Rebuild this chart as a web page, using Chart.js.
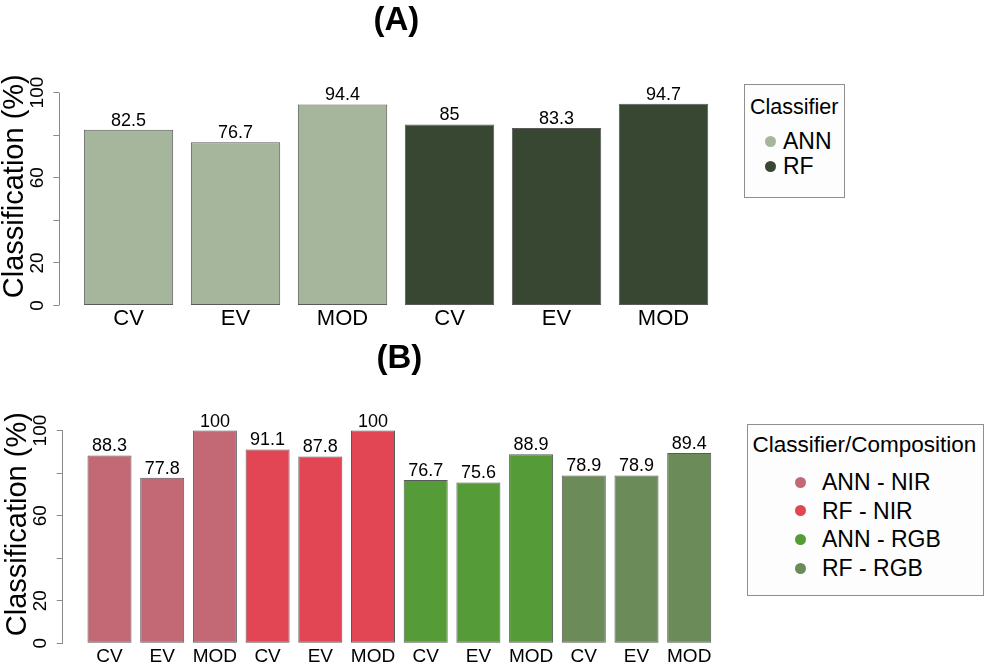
<!DOCTYPE html>
<html>
<head>
<meta charset="utf-8">
<script src="https://cdn.jsdelivr.net/npm/chart.js@4.4.1/dist/chart.umd.min.js"></script>
<style>
  body { margin: 0; background: #fff; font-family: 'Liberation Sans', Arial, sans-serif; }
  #wrap { position: relative; width: 986px; height: 666px; overflow: hidden; }
  canvas { position: absolute; left: 0; }
  #chartA { top: 0; }
  #chartB { top: 338px; }
  .legend { position: absolute; box-sizing: border-box; border: 1px solid #8f8f8f; background: #fdfdfd; color: #000; }
  .legend div { position: absolute; white-space: nowrap; line-height: 26px; }
  .legend span { position: absolute; width: 11px; height: 11px; border-radius: 50%; }
</style>
</head>
<body>
<div id="wrap">
  <canvas id="chartA" width="986" height="338"></canvas>
  <canvas id="chartB" width="986" height="328"></canvas>
  <div class="legend" id="legendA"></div>
  <div class="legend" id="legendB"></div>
</div>
<script>
/* Data */
const panelALabels = ['CV', 'EV', 'MOD', 'CV', 'EV', 'MOD'];
const annValues = [82.5, 76.7, 94.4];
const rfValues = [85, 83.3, 94.7];

const panelBLabels = ['CV', 'EV', 'MOD', 'CV', 'EV', 'MOD', 'CV', 'EV', 'MOD', 'CV', 'EV', 'MOD'];
const annNirValues = [88.3, 77.8, 100];
const rfNirValues = [91.1, 87.8, 100];
const annRgbValues = [76.7, 75.6, 88.9];
const rfRgbValues = [78.9, 78.9, 89.4];

const yTicks = [0, 20, 40, 60, 80, 100];
const yTickLabels = [0, 20, 60, 100];

/* Styles */
const font_family = "'Liberation Sans', Arial, sans-serif";
const axis_color = '#8a8a8a';
const bar_border = '#5a5a5a';
Chart.defaults.font.family = font_family;
Chart.defaults.color = '#000';

// puts each group's bars one after another on the x axis (positions 1..n)
const toBars = (groups) => {
  let pos = 0;
  return groups.map(g => ({
    label: g.label,
    data: g.values.map(v => ({ x: ++pos, y: v })),
    backgroundColor: g.color,
    borderColor: bar_border,
    borderWidth: 1,
    borderSkipped: false
  }));
};

const valueLabels = {
  id: 'valueLabels',
  afterDatasetsDraw(chart) {
    const ctx = chart.ctx;
    ctx.save();
    ctx.font = '18px ' + font_family;
    ctx.fillStyle = '#000';
    ctx.textAlign = 'center';
    ctx.textBaseline = 'alphabetic';
    chart.data.datasets.forEach((ds, i) => {
      chart.getDatasetMeta(i).data.forEach((bar, j) => {
        ctx.fillText(String(ds.data[j].y), bar.x, bar.y - 4);
      });
    });
    ctx.restore();
  }
};

// R draws the y axis line only from the first to the last tick
const axisLine = {
  id: 'axisLine',
  afterDraw(chart) {
    const sc = chart.scales.y;
    const ctx = chart.ctx;
    const x = Math.round(sc.right - 0.5) + 0.5;
    ctx.save();
    ctx.strokeStyle = axis_color;
    ctx.lineWidth = 1;
    ctx.beginPath();
    ctx.moveTo(x, sc.getPixelForValue(yTicks[0]));
    ctx.lineTo(x, sc.getPixelForValue(yTicks[yTicks.length - 1]));
    ctx.stroke();
    ctx.restore();
  }
};

const makePanel = (canvasId, title, labels, groups, lay) => {
  return new Chart(document.getElementById(canvasId), {
    type: 'bar',
    data: { datasets: toBars(groups) },
    options: {
      responsive: false,
      animation: false,
      events: [],
      layout: { padding: { left: lay.padLeft, right: 986 - lay.right, top: 0, bottom: 0 } },
      datasets: { bar: { grouped: false, categoryPercentage: 1, barPercentage: 0.835 } },
      plugins: {
        legend: { display: false },
        tooltip: { enabled: false },
        title: {
          display: true, text: title, fullSize: false, color: '#000',
          font: { size: 33, weight: 'bold', lineHeight: 1.2 },
          padding: { top: 1, bottom: 26.4 }
        }
      },
      scales: {
        x: {
          type: 'linear', offset: false,
          min: lay.xMin, max: lay.xMax,
          grid: { display: false, drawTicks: false },
          border: { display: false },
          afterBuildTicks: (axis) => { axis.ticks = labels.map((l, i) => ({ value: i + 1 })); },
          ticks: {
            autoSkip: false, maxRotation: 0, minRotation: 0, padding: lay.xPad,
            font: { size: lay.xFont }, callback: (v) => labels[v - 1]
          },
          afterFit: (axis) => { axis.height = lay.height - lay.bottom; }
        },
        y: {
          min: 0, max: 112,
          afterBuildTicks: (axis) => { axis.ticks = yTicks.map(v => ({ value: v })); },
          grid: { drawOnChartArea: false, drawTicks: true, tickLength: 6, color: axis_color },
          border: { display: false },
          ticks: {
            autoSkip: false, minRotation: 90, maxRotation: 90, crossAlign: 'center', padding: 0,
            font: { size: 19 },
            callback: (v) => yTickLabels.includes(v) ? String(v) : ''
          },
          title: { display: true, text: 'Classification (%)', font: { size: 29, lineHeight: 1 }, padding: 0, color: '#000' },
          afterFit: (axis) => { axis.width = lay.axisX - lay.padLeft; }
        }
      }
    },
    plugins: [valueLabels, axisLine]
  });
};

// legend box built from the chart's own legend items
const buildLegend = (chart, id, title, box) => {
  const el = document.getElementById(id);
  el.style.left = box.left + 'px';
  el.style.top = box.top + 'px';
  el.style.width = box.width + 'px';
  el.style.height = box.height + 'px';
  const t = document.createElement('div');
  t.textContent = title;
  t.style.fontSize = box.titleSize + 'px';
  t.style.left = (box.titleX - box.left - 1) + 'px';
  t.style.top = (box.titleY - box.top - 14) + 'px';
  el.appendChild(t);
  const items = chart.options.plugins.legend.labels.generateLabels(chart);
  items.forEach((item, i) => {
    const cy = box.firstY + i * box.gap - box.top - 1;
    const dot = document.createElement('span');
    dot.style.background = item.fillStyle;
    dot.style.left = (box.dotX - box.left - 1 - 5.5) + 'px';
    dot.style.top = (cy - 5.5) + 'px';
    el.appendChild(dot);
    const txt = document.createElement('div');
    txt.textContent = item.text;
    txt.style.fontSize = box.itemSize + 'px';
    txt.style.left = (box.textX - box.left - 1) + 'px';
    txt.style.top = (cy - 13) + 'px';
    el.appendChild(txt);
  });
};

/* main */
const chartA = makePanel('chartA', '(A)', panelALabels, [
  { label: 'ANN', values: annValues, color: '#a5b69d' },
  { label: 'RF', values: rfValues, color: '#374731' }
], { padLeft: 0, axisX: 59.3, right: 733.5, xMin: 0.353, xMax: 6.654, xFont: 22, xPad: 0, height: 338, bottom: 305.5 });

const chartB = makePanel('chartB', '(B)', panelBLabels, [
  { label: 'ANN - NIR', values: annNirValues, color: '#c36975' },
  { label: 'RF - NIR', values: rfNirValues, color: '#e24553' },
  { label: 'ANN - RGB', values: annRgbValues, color: '#559b37' },
  { label: 'RF - RGB', values: rfRgbValues, color: '#6b8c58' }
], { padLeft: 3.4, axisX: 62.7, right: 736, xMin: 0.112, xMax: 12.888, xFont: 19, xPad: 2, height: 328, bottom: 305.3 });

buildLegend(chartA, 'legendA', 'Classifier', {
  left: 744, top: 84, width: 101, height: 114, titleSize: 21.5, titleX: 750, titleY: 106.5,
  itemSize: 23, dotX: 770, textX: 783, firstY: 141, gap: 25
});
buildLegend(chartB, 'legendB', 'Classifier/Composition', {
  left: 747, top: 424, width: 237, height: 172, titleSize: 22.5, titleX: 752.5, titleY: 445,
  itemSize: 23, dotX: 800, textX: 822, firstY: 482, gap: 28.7
});
</script>
</body>
</html>
